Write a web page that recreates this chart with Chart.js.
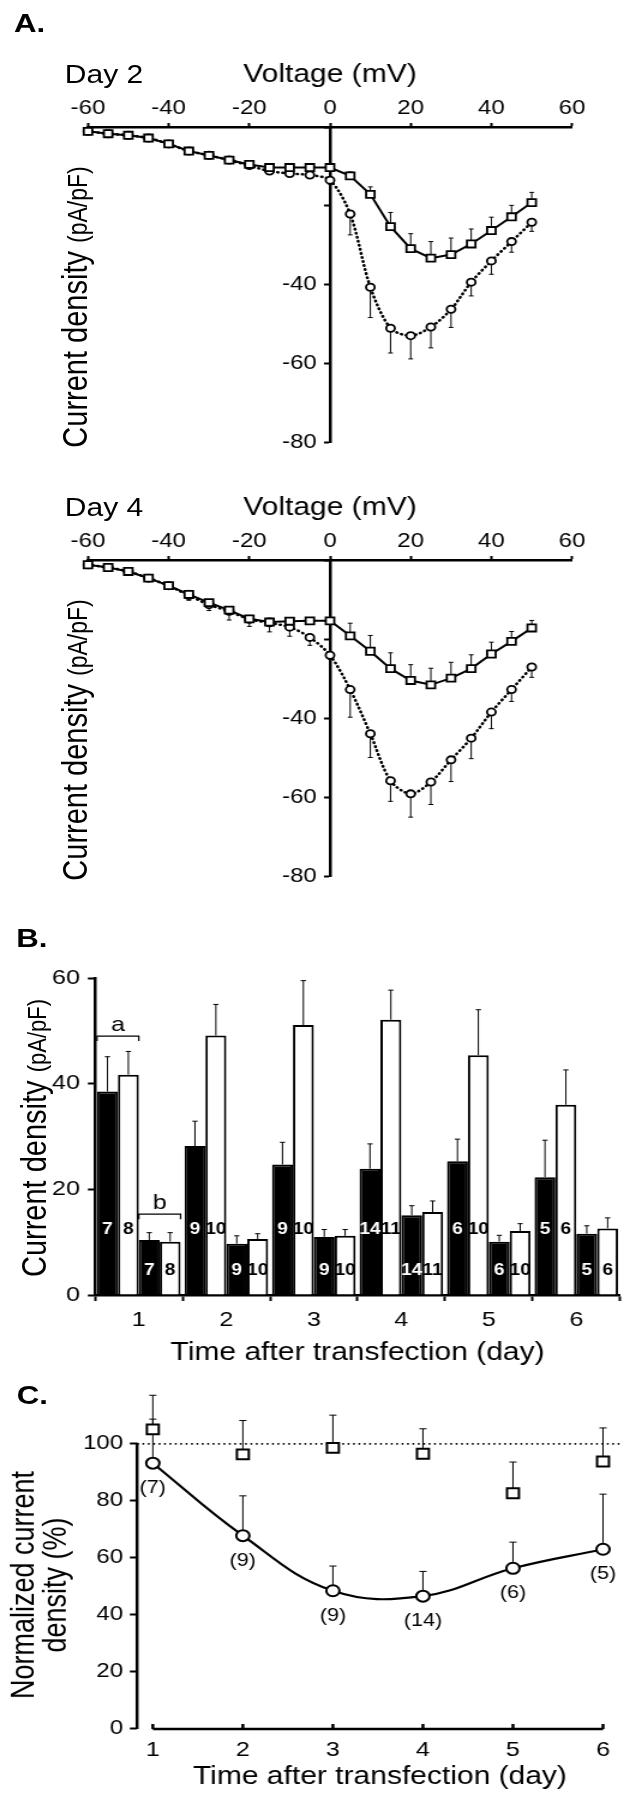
<!DOCTYPE html>
<html>
<head>
<meta charset="utf-8">
<script src="https://cdn.jsdelivr.net/npm/chart.js@4.4.1/dist/chart.umd.min.js"></script>
<style>
html,body{margin:0;padding:0;background:#fff;}
#fig{position:relative;width:528px;height:1800px;transform:scaleX(1.2);transform-origin:0 0;
     font-family:"Liberation Sans",Arial,Helvetica,sans-serif;color:#000;}
#fig canvas{position:absolute;left:0;}
.t{position:absolute;white-space:nowrap;line-height:1;}
.rot{position:absolute;white-space:nowrap;line-height:1;transform:translate(-50%,-50%) rotate(-90deg);}
.lbl{font-weight:bold;font-size:26px;}
</style>
</head>
<body>
<div id="fig">
  <canvas id="cA2" width="528" height="457" style="top:0"></canvas>
  <canvas id="cA4" width="528" height="443" style="top:457px"></canvas>
  <canvas id="cB" width="528" height="475" style="top:900px"></canvas>
  <canvas id="cC" width="528" height="425" style="top:1375px"></canvas>

  <div class="t lbl" style="left:11.7px;top:9.6px">A.</div>
  <div class="t" style="left:54px;top:61.8px;font-size:25px">Day 2</div>
  <div class="t" style="left:54px;top:494.8px;font-size:25px">Day 4</div>
  <div class="rot" style="left:62.5px;top:307px;font-size:29px"><span>Current density </span><span style="font-size:23px">(pA/pF)</span></div>
  <div class="rot" style="left:62.5px;top:740px;font-size:29px"><span>Current density </span><span style="font-size:23px">(pA/pF)</span></div>

  <div class="t lbl" style="left:13.5px;top:924.6px">B.</div>
  <div class="rot" style="left:29px;top:1138px;font-size:29px"><span>Current density </span><span style="font-size:22px">(pA/pF)</span></div>

  <div class="t lbl" style="left:14px;top:1381.6px">C.</div>
  <div class="rot" style="left:33.3px;top:1585px;font-size:27px;text-align:center">Normalized current<br>density (%)</div>
</div>

<script>
Chart.defaults.font.family = '"Liberation Sans", Arial, Helvetica, sans-serif';
Chart.defaults.color = '#000';
Chart.defaults.animation = false;
Chart.defaults.plugins.legend.display = false;
Chart.defaults.plugins.tooltip.enabled = false;

// ---- panel A : I-V curves ----
const voltages = [-60,-55,-50,-45,-40,-35,-30,-25,-20,-15,-10,-5,0,5,10,15,20,25,30,35,40,45,50];
const vTicks = [-60,-40,-20,0,20,40,60];
const iTickLabels = [-40,-60,-80];

const day2Square    = [-1.1,-1.7,-2.1,-2.8,-4.3,-6.1,-7.2,-8.4,-9.5,-10.3,-10.3,-10.3,-10.3,-12.4,-17.1,-25.3,-30.9,-33.3,-32.4,-29.7,-26.3,-22.8,-19.2];
const day2SquareSem = [0.3,0.3,0.3,0.3,0.4,0.4,0.4,0.4,0.5,0.6,0.6,0.6,0.8,1.0,1.9,3.6,3.8,4.2,4.2,3.8,3.4,2.9,2.6];
const day2Circle    = [-1.1,-1.7,-2.1,-2.8,-4.3,-6.1,-7.2,-8.4,-9.8,-11.2,-11.8,-12.2,-13.5,-22.1,-40.7,-51.1,-53.0,-50.8,-46.3,-39.4,-34.0,-29.1,-24.2];
const day2CircleSem = [0.3,0.3,0.3,0.3,0.4,0.4,0.5,0.5,0.6,0.8,0.8,0.8,1.0,5.3,7.7,6.3,5.9,5.3,4.6,3.5,3.4,2.7,2.3];

const day4Square    = [-1.2,-1.9,-2.9,-4.6,-6.5,-8.7,-10.8,-12.7,-14.9,-15.7,-15.5,-15.4,-15.4,-19.2,-23.1,-27.5,-30.5,-31.6,-29.9,-27.5,-23.8,-20.6,-17.2];
const day4SquareSem = [0.3,0.3,0.4,0.5,0.6,1.0,0.8,0.8,0.8,1.0,0.8,0.7,0.8,3.2,4.0,4.0,4.0,4.2,4.0,3.5,3.0,2.5,1.9];
const day4Circle    = [-1.2,-1.9,-2.9,-4.6,-6.5,-9.0,-11.3,-13.0,-15.0,-15.9,-17.0,-19.6,-24.1,-32.8,-44.0,-55.9,-59.2,-56.2,-50.6,-45.1,-38.5,-32.8,-27.1];
const day4CircleSem = [0.3,0.3,0.4,0.5,0.6,1.2,1.5,2.2,1.8,2.3,2.3,2.0,1.0,7.0,6.0,5.2,5.9,5.7,5.5,5.2,4.2,3.0,2.6];

// ---- panel B : current density per day ----
const days = ['1','2','3','4','5','6'];
const bBlackHigh    = [38.5,28.2,24.7,23.9,25.3,22.3];
const bBlackHighSem = [6.6,4.7,4.2,4.7,4.2,7.0];
const bWhiteHigh    = [41.7,49.1,51.1,52.1,45.4,36.0];
const bWhiteHighSem = [4.4,5.9,8.4,5.6,8.6,6.6];
const bBlackLow     = [10.4,9.7,11.0,15.1,10.1,11.6];
const bBlackLowSem  = [1.4,1.5,1.4,1.8,1.2,1.5];
const bWhiteLow     = [10.1,10.6,11.2,15.7,12.1,12.6];
const bWhiteLowSem  = [1.7,1.0,1.2,2.1,1.4,2.0];
const bBlackN = [7,9,9,14,6,5];
const bWhiteN = [8,10,10,11,10,6];

// ---- panel C : normalized current density ----
const cDays = [1,2,3,4,5,6];
const cCircle    = [93.2,67.7,48.3,46.4,56.2,62.9];
const cCircleSem = [15.5,14.0,8.7,8.7,9.2,19.4];
const cSquare    = [105.1,96.3,98.6,96.5,82.6,93.8];
const cSquareSem = [12.0,11.9,11.5,8.8,11.0,11.8];
const cCounts = ['(7)','(9)','(9)','(14)','(6)','(5)'];
const cTicks = [0,20,40,60,80,100];
const cControl = 100;
const cXMin = 0.825, cXMax = 6.22;

// error bars (one direction) for any dataset carrying sem / semDir
const semBars = {
  id: 'semBars',
  beforeDatasetsDraw(chart, args, opts) {
    const ctx = chart.ctx, ys = chart.scales.y, cap = opts.cap || 2;
    ctx.save();
    ctx.strokeStyle = '#000';
    ctx.lineWidth = opts.width || 1;
    chart.data.datasets.forEach((ds, di) => {
      if (!ds.sem) return;
      chart.getDatasetMeta(di).data.forEach((el, i) => {
        const raw = ds.data[i];
        const val = typeof raw === 'object' ? raw.y : raw;
        const end = ys.getPixelForValue(val + ds.semDir * ds.sem[i]);
        ctx.beginPath();
        ctx.moveTo(el.x, el.y); ctx.lineTo(el.x, end);
        ctx.moveTo(el.x - cap, end); ctx.lineTo(el.x + cap, end);
        ctx.stroke();
      });
    });
    ctx.restore();
  }
};

// n numbers inside bars
const barCounts = {
  id: 'barCounts',
  afterDatasetsDraw(chart, args, opts) {
    const ctx = chart.ctx, ys = chart.scales.y;
    ctx.save();
    ctx.font = 'bold 16px "Liberation Sans", Arial, sans-serif';
    ctx.textAlign = 'center';
    ctx.textBaseline = 'middle';
    chart.data.datasets.forEach((ds, di) => {
      ctx.fillStyle = ds.backgroundColor === '#000' ? '#fff' : '#000';
      chart.getDatasetMeta(di).data.forEach((el, i) => {
        ctx.fillText(String(ds.counts[i]), el.x, ys.getPixelForValue(opts.at[di]));
      });
    });
    ctx.restore();
  }
};

// brackets a / b above day 1 pairs
const brackets = {
  id: 'brackets',
  afterDatasetsDraw(chart, args, opts) {
    const ctx = chart.ctx, ys = chart.scales.y;
    ctx.save();
    ctx.strokeStyle = '#000';
    ctx.lineWidth = 1.2;
    ctx.font = '21px "Liberation Sans", Arial, sans-serif';
    ctx.textAlign = 'center';
    ctx.textBaseline = 'alphabetic';
    opts.items.forEach(b => {
      const e1 = chart.getDatasetMeta(b.from).data[b.index];
      const e2 = chart.getDatasetMeta(b.to).data[b.index];
      const x1 = e1.x - e1.width / 2, x2 = e2.x + e2.width / 2;
      const y = ys.getPixelForValue(b.level);
      ctx.beginPath();
      ctx.moveTo(x1, y + 5); ctx.lineTo(x1, y); ctx.lineTo(x2, y); ctx.lineTo(x2, y + 5);
      ctx.stroke();
      ctx.fillStyle = '#000';
      ctx.fillText(b.text, (x1 + x2) / 2, y - 5);
    });
    ctx.restore();
  }
};

// panel C axes: y line up to 100, x line from day 1 to day 6 with small upward ticks
const cAxes = {
  id: 'cAxes',
  afterDraw(chart, args, opts) {
    const {ctx, scales: {x, y}} = chart;
    const y0 = y.getPixelForValue(0), yTop = y.getPixelForValue(opts.yTop);
    const xl = chart.chartArea.left;
    const xs = opts.xTicks.map(v => x.getPixelForValue(v));
    ctx.save();
    ctx.strokeStyle = '#000';
    ctx.lineWidth = 2.5;
    ctx.beginPath();
    ctx.moveTo(xl, y0 + 1); ctx.lineTo(xl, yTop - 1);
    ctx.moveTo(xs[0], y0 + 1); ctx.lineTo(xs[xs.length - 1], y0 + 1);
    xs.forEach(px => { ctx.moveTo(px, y0 + 1); ctx.lineTo(px, y0 - 4); });
    ctx.stroke();
    ctx.restore();
  }
};

// (n) under the circles
const pointCounts = {
  id: 'pointCounts',
  afterDatasetsDraw(chart, args, opts) {
    const ctx = chart.ctx;
    ctx.save();
    ctx.font = '18px "Liberation Sans", Arial, sans-serif';
    ctx.fillStyle = '#000';
    ctx.textAlign = 'center';
    ctx.textBaseline = 'middle';
    chart.data.datasets.forEach((ds, di) => {
      if (!ds.counts) return;
      chart.getDatasetMeta(di).data.forEach((el, i) => {
        ctx.fillText(ds.counts[i], el.x, el.y + opts.offset);
      });
    });
    ctx.restore();
  }
};

function ivChart(id, sq, sqSem, ci, ciSem, padTop, padBottom) {
  return new Chart(document.getElementById(id), {
    type: 'line',
    data: {
      datasets: [
        { data: voltages.map((v, i) => ({x: v, y: sq[i]})), sem: sqSem, semDir: 1,
          borderColor: '#000', borderWidth: 2, tension: 0,
          pointStyle: 'rect', pointRadius: 5, pointBorderWidth: 1.8,
          pointBackgroundColor: '#fff', pointBorderColor: '#000', clip: false },
        { data: voltages.map((v, i) => ({x: v, y: ci[i]})), sem: ciSem, semDir: -1,
          borderColor: '#000', borderWidth: 2.6, borderDash: [0.5, 3.6], borderCapStyle: 'round', tension: 0.3,
          pointStyle: 'circle', pointRadius: 3.6, pointBorderWidth: 1.8,
          pointBackgroundColor: '#fff', pointBorderColor: '#000', clip: false }
      ]
    },
    options: {
      responsive: false,
      layout: { padding: { left: 73.3, right: 51.3, top: padTop, bottom: padBottom } },
      scales: {
        x: {
          type: 'linear', position: 'top', min: -60, max: 60,
          afterBuildTicks: s => { s.ticks = vTicks.map(v => ({value: v})); },
          afterFit: s => { s.height = 67; },
          ticks: { font: {size: 20}, padding: 3, maxRotation: 0 },
          grid: { drawOnChartArea: false, tickLength: 4, tickWidth: 2, color: '#000' },
          border: { color: '#000', width: 2.5 },
          title: { display: true, text: 'Voltage (mV)', font: {size: 25}, padding: 0 }
        },
        y: {
          type: 'linear', position: {x: 0}, min: -80, max: 0,
          ticks: { stepSize: 20, font: {size: 20},
                   callback: v => iTickLabels.includes(v) ? v + '  ' : '' },
          grid: { drawOnChartArea: false, tickLength: 4, tickWidth: 2, color: '#000' },
          border: { color: '#000', width: 2.5 }
        }
      },
      plugins: { semBars: { cap: 2, width: 1 } }
    },
    plugins: [semBars]
  });
}

ivChart('cA2', day2Square, day2SquareSem, day2Circle, day2CircleSem, 60, 12);
ivChart('cA4', day4Square, day4SquareSem, day4Circle, day4CircleSem, 36, 24);

new Chart(document.getElementById('cB'), {
  type: 'bar',
  data: {
    labels: days,
    datasets: [
      { data: bBlackHigh, sem: bBlackHighSem, semDir: 1, counts: bBlackN, backgroundColor: '#000', borderColor: '#000', borderWidth: 2 },
      { data: bWhiteHigh, sem: bWhiteHighSem, semDir: 1, counts: bWhiteN, backgroundColor: '#fff', borderColor: '#000', borderWidth: 2 },
      { data: bBlackLow,  sem: bBlackLowSem,  semDir: 1, counts: bBlackN, backgroundColor: '#000', borderColor: '#000', borderWidth: 2 },
      { data: bWhiteLow,  sem: bWhiteLowSem,  semDir: 1, counts: bWhiteN, backgroundColor: '#fff', borderColor: '#000', borderWidth: 2 }
    ]
  },
  options: {
    responsive: false,
    layout: { padding: { left: 40, right: 11.3, top: 78, bottom: 7 } },
    datasets: { bar: { barPercentage: 1, categoryPercentage: 0.955 } },
    scales: {
      x: {
        afterFit: s => { s.height = 73; },
        ticks: { font: {size: 21}, padding: 6.4 },
        grid: { drawOnChartArea: false, tickLength: 6, tickWidth: 2, color: '#000' },
        border: { color: '#000', width: 2.5 },
        title: { display: true, text: 'Time after transfection (day)', font: {size: 25}, padding: 0 }
      },
      y: {
        min: 0, max: 60,
        afterFit: s => { s.width = 39.2; },
        ticks: { stepSize: 20, font: {size: 21}, padding: 6.5 },
        grid: { drawOnChartArea: false, tickLength: 6, tickWidth: 2, color: '#000' },
        border: { color: '#000', width: 2.5 }
      }
    },
    plugins: {
      semBars: { cap: 2.2, width: 1 },
      barCounts: { at: [12.3, 12.3, 4.7, 4.7] },
      brackets: { items: [
        { from: 0, to: 1, index: 0, level: 49, text: 'a' },
        { from: 2, to: 3, index: 0, level: 15.3, text: 'b' }
      ] }
    }
  },
  plugins: [semBars, barCounts, brackets]
});

new Chart(document.getElementById('cC'), {
  type: 'line',
  data: {
    datasets: [
      { data: cDays.map((d, i) => ({x: d, y: cSquare[i]})), sem: cSquareSem, semDir: 1, showLine: false,
        pointStyle: 'rect', pointRadius: 7, pointBorderWidth: 2,
        pointBackgroundColor: '#fff', pointBorderColor: '#000', clip: false },
      { data: cDays.map((d, i) => ({x: d, y: cCircle[i]})), sem: cCircleSem, semDir: 1, counts: cCounts,
        borderColor: '#000', borderWidth: 2.2, tension: 0.4,
        pointRadius: 5.5, pointBorderWidth: 2,
        pointBackgroundColor: '#fff', pointBorderColor: '#000', clip: false },
      { data: [{x: cXMin, y: cControl}, {x: cXMax, y: cControl}],
        borderColor: '#000', borderWidth: 1.6, borderDash: [1.5, 3], pointRadius: 0, clip: false }
    ]
  },
  options: {
    responsive: false,
    layout: { padding: { left: 40, right: 3, top: 12, bottom: 8 } },
    scales: {
      x: {
        type: 'linear', min: cXMin, max: cXMax,
        afterBuildTicks: s => { s.ticks = cDays.map(v => ({value: v})); },
        afterFit: s => { s.height = 64; },
        ticks: { font: {size: 21}, padding: 9.4 },
        grid: { display: false, drawTicks: false },
        border: { display: false },
        title: { display: true, text: 'Time after transfection (day)', font: {size: 25}, padding: 0 }
      },
      y: {
        min: 0, max: 118,
        afterBuildTicks: s => { s.ticks = cTicks.map(v => ({value: v})); },
        afterFit: s => { s.width = 74.2; },
        ticks: { font: {size: 20}, padding: 5.7 },
        grid: { drawOnChartArea: false, tickLength: 6, tickWidth: 2, color: '#000' },
        border: { display: false }
      }
    },
    plugins: {
      semBars: { cap: 3, width: 1 },
      cAxes: { yTop: cControl, xTicks: cDays },
      pointCounts: { offset: 25 }
    }
  },
  plugins: [semBars, cAxes, pointCounts]
});
</script>
</body>
</html>
